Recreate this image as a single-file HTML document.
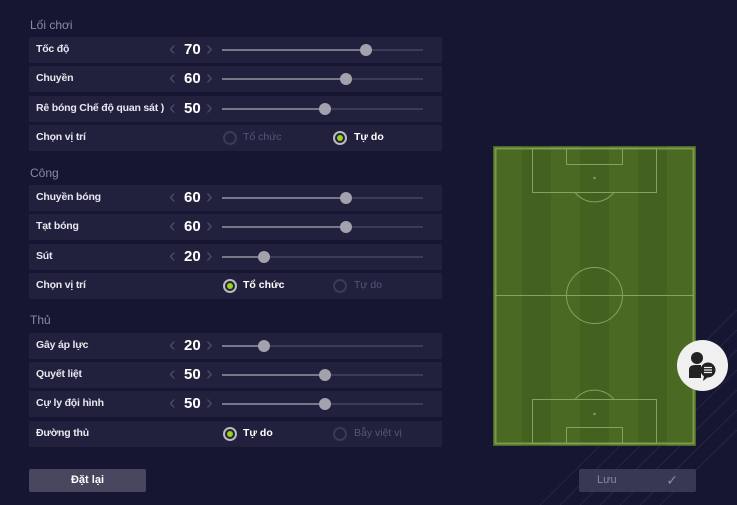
<!DOCTYPE html><html><head><meta charset="utf-8"><style>
body{margin:0;width:737px;height:505px;background:#171632;overflow:hidden;position:relative;font-family:"Liberation Sans","DejaVu Sans",sans-serif;color:#e8e8f0}
.h{position:absolute;left:30px;font-size:12px;color:#8a8aa2}
.r{position:absolute;left:29px;width:413px;height:26px;background:#21213d}
.l{position:absolute;left:7px;top:6px;font-size:10.5px;font-weight:bold;letter-spacing:-.2px}
.a{position:absolute;top:1px;font-size:20px;color:#4a4a6a}
.v{position:absolute;left:155px;top:4px;font-size:15px;font-weight:bold;color:#fff}
.t{position:absolute;left:193px;top:12px;width:201px;height:2px;background:#3c3c58}
.f{position:absolute;left:0;top:0;height:2px;background:#77778a}
.k{position:absolute;top:-5px;width:12px;height:12px;border-radius:50%;background:#a2a2ae;margin-left:-6px}
.rd{position:absolute;top:6px;width:10px;height:10px;border-radius:50%;border:2px solid #3a3a58}
.rd.on{border-color:#bbb}
.rd.on::after{content:"";position:absolute;left:2px;top:2px;width:6px;height:6px;border-radius:50%;background:#9ad21a}
.rt{position:absolute;top:6px;font-size:10.5px;color:#55557a}
.rt.on{color:#fff;font-weight:bold}
.btn{position:absolute;top:469px;width:117px;height:23px;border-radius:2px;font-size:11px;text-align:center;line-height:23px}
</style></head><body>
<svg style="position:absolute;left:0;top:0" width="737" height="505"><g stroke="#262546" stroke-width="1">
<line x1="560" y1="505" x2="737" y2="330"/><line x1="580" y1="505" x2="737" y2="350"/><line x1="600" y1="505" x2="737" y2="370"/><line x1="620" y1="505" x2="737" y2="390"/><line x1="640" y1="505" x2="737" y2="410"/><line x1="660" y1="505" x2="737" y2="430"/><line x1="540" y1="505" x2="737" y2="310"/></g></svg>
<div class="h" style="top:18px">Lối chơi</div>
<div class="r" style="top:37px"><div class="l">Tốc độ</div><div class="a" style="left:140px">&lsaquo;</div><div class="v">70</div><div class="a" style="left:177px">&rsaquo;</div><div class="t"><div class="f" style="width:144px"></div><div class="k" style="left:144px"></div></div></div>
<div class="r" style="top:66px"><div class="l">Chuyền</div><div class="a" style="left:140px">&lsaquo;</div><div class="v">60</div><div class="a" style="left:177px">&rsaquo;</div><div class="t"><div class="f" style="width:124px"></div><div class="k" style="left:124px"></div></div></div>
<div class="r" style="top:96px"><div class="l">Rê bóng Chế độ quan sát )</div><div class="a" style="left:140px">&lsaquo;</div><div class="v">50</div><div class="a" style="left:177px">&rsaquo;</div><div class="t"><div class="f" style="width:103px"></div><div class="k" style="left:103px"></div></div></div>
<div class="r" style="top:125px"><div class="l">Chọn vị trí</div><div class="rd" style="left:194px"></div><div class="rt" style="left:214px">Tổ chức</div><div class="rd on" style="left:304px"></div><div class="rt on" style="left:325px">Tự do</div></div>
<div class="h" style="top:166px">Công</div>
<div class="r" style="top:185px"><div class="l">Chuyền bóng</div><div class="a" style="left:140px">&lsaquo;</div><div class="v">60</div><div class="a" style="left:177px">&rsaquo;</div><div class="t"><div class="f" style="width:124px"></div><div class="k" style="left:124px"></div></div></div>
<div class="r" style="top:214px"><div class="l">Tạt bóng</div><div class="a" style="left:140px">&lsaquo;</div><div class="v">60</div><div class="a" style="left:177px">&rsaquo;</div><div class="t"><div class="f" style="width:124px"></div><div class="k" style="left:124px"></div></div></div>
<div class="r" style="top:244px"><div class="l">Sút</div><div class="a" style="left:140px">&lsaquo;</div><div class="v">20</div><div class="a" style="left:177px">&rsaquo;</div><div class="t"><div class="f" style="width:42px"></div><div class="k" style="left:42px"></div></div></div>
<div class="r" style="top:273px"><div class="l">Chọn vị trí</div><div class="rd on" style="left:194px"></div><div class="rt on" style="left:214px">Tổ chức</div><div class="rd" style="left:304px"></div><div class="rt" style="left:325px">Tự do</div></div>
<div class="h" style="top:313px">Thủ</div>
<div class="r" style="top:333px"><div class="l">Gây áp lực</div><div class="a" style="left:140px">&lsaquo;</div><div class="v">20</div><div class="a" style="left:177px">&rsaquo;</div><div class="t"><div class="f" style="width:42px"></div><div class="k" style="left:42px"></div></div></div>
<div class="r" style="top:362px"><div class="l">Quyết liệt</div><div class="a" style="left:140px">&lsaquo;</div><div class="v">50</div><div class="a" style="left:177px">&rsaquo;</div><div class="t"><div class="f" style="width:103px"></div><div class="k" style="left:103px"></div></div></div>
<div class="r" style="top:391px"><div class="l">Cự ly đội hình</div><div class="a" style="left:140px">&lsaquo;</div><div class="v">50</div><div class="a" style="left:177px">&rsaquo;</div><div class="t"><div class="f" style="width:103px"></div><div class="k" style="left:103px"></div></div></div>
<div class="r" style="top:421px"><div class="l">Đường thủ</div><div class="rd on" style="left:194px"></div><div class="rt on" style="left:214px">Tự do</div><div class="rd" style="left:304px"></div><div class="rt" style="left:325px">Bẫy việt vị</div></div>
<div class="btn" style="left:29px;background:#48475f;color:#fff;font-weight:bold">Đặt lại</div>
<div class="btn" style="left:579px;background:#393854;color:#8a8aa0;text-align:left"><span style="margin-left:18px">Lưu</span><span style="position:absolute;right:18px;font-size:14px">✓</span></div>
<svg style="position:absolute;left:493px;top:146px" width="203" height="300">
<rect width="203" height="300" fill="#4a6a24"/>
<g fill="#43611f"><rect x="29" width="29" height="300"/><rect x="87" width="29" height="300"/><rect x="145" width="29" height="300"/></g>
<g fill="none" stroke="#8aa060" stroke-width="1">
<rect x="2.5" y="2.5" width="198" height="295" stroke="#7d9a4a" stroke-width="2"/>
<rect x="39.5" y="2.5" width="124" height="44"/><rect x="73.5" y="2.5" width="56" height="16"/>
<path d="M82 46.5 A25 25 0 0 0 121 46.5"/>
<rect x="39.5" y="253.5" width="124" height="44"/><rect x="73.5" y="281.5" width="56" height="16"/>
<path d="M82 253.5 A25 25 0 0 1 121 253.5"/>
<line x1="2" y1="149.5" x2="201" y2="149.5"/><circle cx="101.5" cy="149.5" r="28"/></g>
<circle cx="101.5" cy="32" r="1.2" fill="#8aa060"/><circle cx="101.5" cy="268" r="1.2" fill="#8aa060"/>
</svg>
<div style="position:absolute;left:677px;top:340px;width:51px;height:51px;border-radius:50%;background:#f0f0f0"></div>
<svg style="position:absolute;left:677px;top:340px" width="51" height="51"><circle cx="20" cy="18" r="6" fill="#222"/><path d="M12 38 V30 Q12 25 18 25 H24 V38 Z" fill="#222"/><circle cx="31" cy="30" r="7.5" fill="#222"/><path d="M27 36 L26 41 L31 37Z" fill="#222"/><g stroke="#eee" stroke-width="1.2"><line x1="27" y1="27.5" x2="35" y2="27.5"/><line x1="27" y1="30" x2="35" y2="30"/><line x1="27" y1="32.5" x2="35" y2="32.5"/></g></svg>
</body></html>
